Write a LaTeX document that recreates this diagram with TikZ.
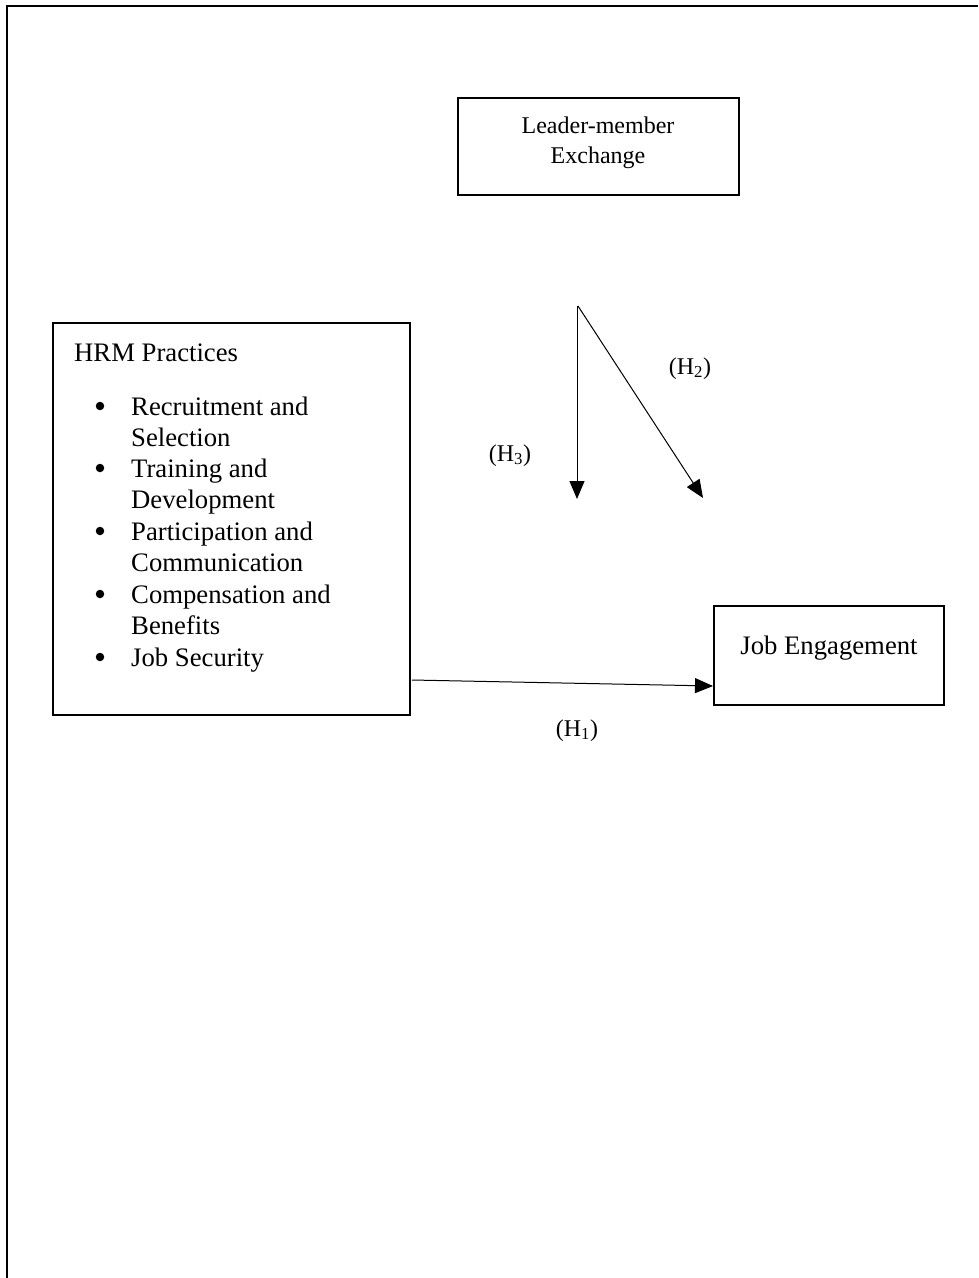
\documentclass[tikz,border=0pt]{standalone}
\usepackage{fontspec}
\setmainfont{Liberation Serif}
\usetikzlibrary{arrows.meta,calc}
\begin{document}
\begin{tikzpicture}[x=1pt,y=-1pt,
  box/.style={draw,line width=2pt,inner sep=0pt},
  txt/.style={inner sep=0pt,anchor=base west,font=\fontsize{26.7}{31}\selectfont},
  ctxt/.style={inner sep=0pt,anchor=base,font=\fontsize{24}{30}\selectfont},
  bul/.style={circle,fill,inner sep=0pt,minimum size=8.5pt},
  arr/.style={line width=1pt,-{Triangle[length=18pt,width=15pt]}}]
\useasboundingbox (0,0) rectangle (978,1278);
\draw[line width=2pt] (7,1278) -- (7,6) -- (978,6);
% boxes
\node[box,minimum width=281pt,minimum height=97pt] (lmx) at (598.5,146.5) {};
\node[box,minimum width=357pt,minimum height=392pt] (hrm) at (231.5,519) {};
\node[box,minimum width=230pt,minimum height=99pt] (je) at (829,655.5) {};
% LMX text
\node[ctxt] (lmx1) at (598,133) {Leader-member};
\node[ctxt] (lmx2) at (598,163) {Exchange};
% HRM text
\node[txt] (hrmt) at (74,361) {HRM Practices};
\node[bul] (b1) at (100,406) {};
\node[txt] (r1) at (131,415) {Recruitment and};
\node[txt] (r2) at (131,446) {Selection};
\node[bul] (b2) at (100,468) {};
\node[txt] (r3) at (131,477) {Training and};
\node[txt] (r4) at (131,508) {Development};
\node[bul] (b3) at (100,531) {};
\node[txt] (r5) at (131,540) {Participation and};
\node[txt] (r6) at (131,571) {Communication};
\node[bul] (b4) at (100,594) {};
\node[txt] (r7) at (131,603) {Compensation and};
\node[txt] (r8) at (131,634) {Benefits};
\node[bul] (b5) at (100,657) {};
\node[txt] (r9) at (131,666) {Job Security};
% JE text
\node[txt,anchor=base] (jet) at (829,654) {Job Engagement};
% labels
\node[ctxt] (h2) at (690,374) {(H\textsubscript{2})};
\node[ctxt] (h3) at (510,461) {(H\textsubscript{3})};
\node[ctxt] (h1) at (577,736) {(H\textsubscript{1})};
% arrows
\coordinate (m) at (577,306);
\coordinate (m2) at (578,306);
\coordinate (t3) at (577,499);
\coordinate (t2) at (703,498);
\coordinate (h1s) at (412,680);
\draw[arr] (m) -- (t3);
\draw[arr] (m2) -- (t2);
\draw[arr] (h1s) -- ([yshift=-30.5pt]je.west);
\end{tikzpicture}
\end{document}
